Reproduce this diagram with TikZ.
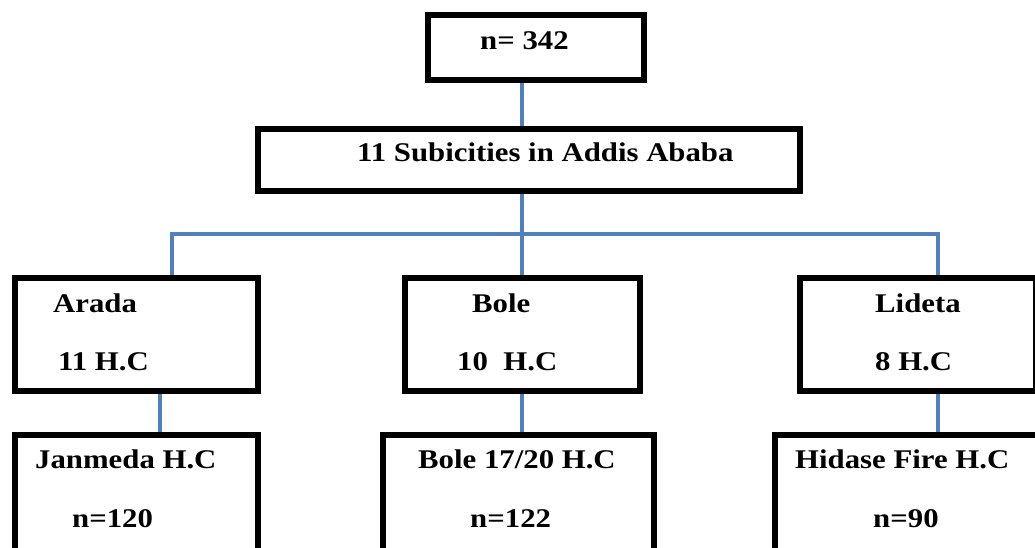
\documentclass[tikz,border=0pt]{standalone}
\usepackage{fontspec}
\setmainfont{Liberation Serif}
\usepackage{graphicx}
\definecolor{linkblue}{HTML}{4F81BD}
\newcommand{\wtext}[1]{\scalebox{1.14}[1]{#1}}
\begin{document}
\begin{tikzpicture}[x=1pt,y=-1pt,
  boxnode/.style={draw=black,line width=4pt,rectangle,inner sep=0pt},
  link/.style={draw=linkblue,line width=4pt},
  lbl/.style={anchor=base west,inner sep=0pt,font=\fontsize{27}{32}\selectfont\bfseries}]
\useasboundingbox (0,0) rectangle (1035,548);
\clip (0,0) rectangle (1035,548);
% boxes (drawn as rectangles from corner to corner)
\node[boxnode,minimum width=214pt,minimum height=63pt,anchor=north west] (top) at (427,14) {};
\node[boxnode,minimum width=540pt,minimum height=60pt,anchor=north west] (sub) at (257,128) {};
\node[boxnode,minimum width=241pt,minimum height=111pt,anchor=north west] (arada) at (14,277) {};
\node[boxnode,minimum width=233pt,minimum height=111pt,anchor=north west] (bole) at (404,277) {};
\node[boxnode,minimum width=234pt,minimum height=111pt,anchor=north west] (lideta) at (799,277) {};
\node[boxnode,minimum width=241pt,minimum height=140pt,anchor=north west] (janmeda) at (14,434) {};
\node[boxnode,minimum width=269pt,minimum height=140pt,anchor=north west] (bolex) at (382,434) {};
\node[boxnode,minimum width=270pt,minimum height=140pt,anchor=north west] (hidase) at (774,434) {};
% connector coordinates
\coordinate (j) at (522,234);
\coordinate (hL) at (172,234);
\coordinate (hR) at (938,234);
\coordinate (c1) at (160,410);
\coordinate (c2) at (522,410);
\coordinate (c3) at (938,410);
% connectors
\begin{scope}[on background layer/.style={}]
\draw[link] (top.south -| j) -- (sub.north -| j);
\draw[link] (sub.south -| j) -- (bole.north -| j);
\draw[link,line join=miter] (arada.north -| hL) -- (hL) -- (hR) -- (lideta.north -| hR);
\draw[link] (arada.south -| c1) -- (janmeda.north -| c1);
\draw[link] (bole.south -| c2) -- (bolex.north -| c2);
\draw[link] (lideta.south -| c3) -- (hidase.north -| c3);
\end{scope}
% redraw boxes on top of connectors
\foreach \b in {top,sub,arada,bole,lideta,janmeda,bolex,hidase}
  \draw[line width=4pt] (\b.north west) rectangle (\b.south east);
% texts
\node[lbl] (t0) at (480,50) {\wtext{n= 342}};
\node[lbl] (t1) at (357,162) {\wtext{11 Subicities in Addis Ababa}};
\node[lbl] (t2) at (53,312) {\wtext{Arada}};
\node[lbl] (t3) at (58,370) {\wtext{11 H.C}};
\node[lbl] (t4) at (472,312) {\wtext{Bole}};
\node[lbl] (t5) at (457,370) {\wtext{10\ \ H.C}};
\node[lbl] (t6) at (875,312) {\wtext{Lideta}};
\node[lbl] (t7) at (875,370) {\wtext{8 H.C}};
\node[lbl] (t8) at (35,468) {\wtext{Janmeda H.C}};
\node[lbl] (t9) at (72,527) {\wtext{n=120}};
\node[lbl] (t10) at (418,468) {\wtext{Bole 17/20 H.C}};
\node[lbl] (t11) at (470,527) {\wtext{n=122}};
\node[lbl] (t12) at (795,468) {\wtext{Hidase Fire H.C}};
\node[lbl] (t13) at (873,527) {\wtext{n=90}};
\end{tikzpicture}
\end{document}
